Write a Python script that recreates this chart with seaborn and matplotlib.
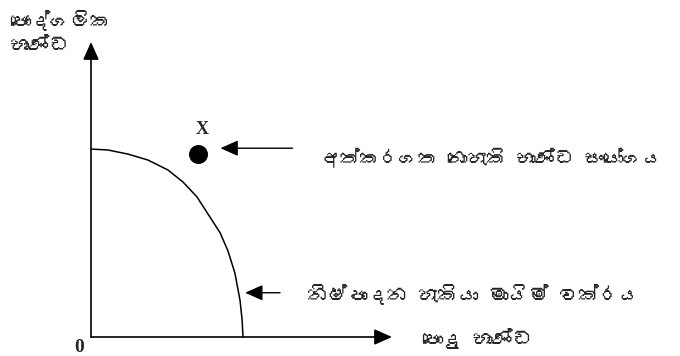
import matplotlib
matplotlib.use("Agg")
import matplotlib.pyplot as plt
from matplotlib import font_manager
from matplotlib.ft2font import FT2Font
import seaborn as sns

# ---- data ----
ppf_x = [0.00, 0.56, 1.23, 1.89, 2.56, 3.06, 3.52, 3.95, 4.29, 4.55, 4.78, 4.95, 5.02, 5.05]
ppf_y = [6.37, 6.34, 6.20, 6.00, 5.66, 5.25, 4.75, 4.07, 3.53, 2.92, 2.17, 1.25, 0.58, 0.00]
point_x = [3.55]
point_y = [6.20]
point_label = "X"
origin_label = "0"
y_axis_label = ["පෞද්ගලික", "භාණ්ඩ"]
x_axis_label = "පොදු භාණ්ඩ"
point_note = "අත්කරගත නොහැකි භාණ්ඩ සංයෝගය"
curve_note = "නිෂ්පාදන හැකියා මායිම් වක්රය"

sns.set_theme(style="white")

# find a font with Sinhala coverage
sin_font = None
for f in font_manager.fontManager.ttflist:
    try:
        cmap = FT2Font(f.fname).get_charmap()
        if 0x0D9A in cmap and 0x0DCA in cmap:
            sin_font = f.name
            break
    except Exception:
        pass
fams = ([sin_font] if sin_font else []) + ["DejaVu Sans"]
plt.rcParams["font.family"] = fams

fig = plt.figure(figsize=(6.8, 3.56), dpi=100)
fig.patch.set_facecolor("white")
ax = fig.add_axes([91 / 680, 19 / 356, 301 / 680, 295 / 356])
ax.set_xlim(0, 10)
ax.set_ylim(0, 10)
for s in ax.spines.values():
    s.set_visible(False)
ax.set_xticks([])
ax.set_yticks([])
ax.set_facecolor("white")

ak = dict(arrowstyle="-|>,head_length=0.9,head_width=0.4", color="black", lw=1.2,
          shrinkA=0, shrinkB=0)
ax.annotate("", xy=(10, 0), xytext=(0, 0), arrowprops=ak, annotation_clip=False)
ax.annotate("", xy=(0, 10), xytext=(0, 0), arrowprops=ak, annotation_clip=False)

sns.lineplot(x=ppf_x, y=ppf_y, sort=False, estimator=None, color="black", lw=1.1, ax=ax)
sns.scatterplot(x=point_x, y=point_y, color="black", s=160, edgecolor="black", ax=ax, zorder=5)

ax.text(point_x[0] + 0.15, point_y[0] + 0.55, point_label, fontsize=13, fontweight="bold",
        family="Liberation Serif", ha="center", va="bottom")
ax.text(-0.4, -0.35, origin_label, fontsize=14, fontweight="bold", family="Liberation Serif",
        ha="center", va="center", clip_on=False)

ak2 = dict(arrowstyle="-|>,head_length=0.9,head_width=0.4", color="black", lw=1.0,
           shrinkA=0, shrinkB=0)
ax.annotate("", xy=(4.3, 6.4), xytext=(6.7, 6.4), arrowprops=ak2, annotation_clip=False)
ax.text(7.65, 6.07, point_note, fontsize=14, ha="left", va="center", clip_on=False)

ax.annotate("", xy=(5.12, 1.5), xytext=(6.28, 1.5), arrowprops=ak2, annotation_clip=False)
ax.text(7.18, 1.45, curve_note, fontsize=14.5, ha="left", va="center", clip_on=False)

ax.text(11.0, -0.05, x_axis_label, fontsize=14.5, ha="left", va="center", clip_on=False)
fig.text(10 / 680, 1 - 20 / 356, y_axis_label[0], fontsize=14.5, ha="left", va="center")
fig.text(10 / 680, 1 - 46 / 356, y_axis_label[1], fontsize=14.5, ha="left", va="center")

fig.savefig("out.png", dpi=100, facecolor="white")
